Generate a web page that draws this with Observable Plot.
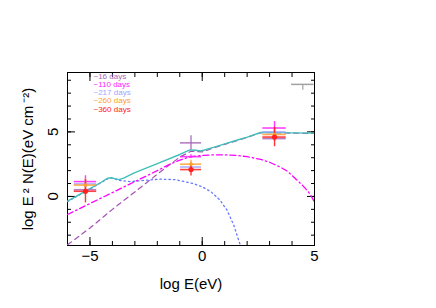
<!DOCTYPE html>
<html>
<head>
<meta charset="utf-8">
<script src="https://cdn.jsdelivr.net/npm/d3@7"></script>
<script src="https://cdn.jsdelivr.net/npm/@observablehq/plot@0.6"></script>
<style>
  html, body { margin: 0; padding: 0; background: #fff; }
  svg { display: block; }
</style>
</head>
<body>
<div id="chart"></div>
<script>
// ---- model curves (log E [eV] vs log E^2 N(E)) ----
const totalLogE = [-6, -5.5, -5, -4.5, -4.2, -4.05, -3.9, -3.7, -3.5, -3, -2, -1, -0.55, -0.3, -0.05, 0.5, 1, 1.5, 2, 2.6, 3, 4, 5];
const totalVal  = [-0.36, 0.12, 0.6, 1.1, 1.42, 1.45, 1.38, 1.3, 1.42, 1.84, 2.54, 3.25, 3.6, 3.58, 3.52, 3.8, 4.07, 4.33, 4.6, 4.95, 4.96, 4.92, 4.9];

const dottedLogE = [-6, -5, -4.5, -4.2, -4.05, -3.9, -3.7, -3.2, -2.6, -1.9, -1.2, -0.4, 0, 0.4, 0.8, 1.1, 1.4, 1.7];
const dottedVal  = [-0.4, 0.58, 1.07, 1.38, 1.42, 1.35, 1.25, 1.15, 1.24, 1.34, 1.3, 1.0, 0.75, 0.35, -0.3, -1.05, -2.2, -3.8];

const dashDotLogE = [-6, -5, -4, -3, -2, -1.5, -1, -0.5, 0, 0.5, 1, 1.5, 2, 2.6, 3, 3.5, 3.8, 4.2, 4.5, 4.8, 5];
const dashDotVal  = [-1.4, -0.55, 0.3, 1.15, 2.0, 2.45, 2.82, 3.08, 3.18, 3.22, 3.22, 3.18, 3.08, 2.87, 2.65, 2.25, 1.95, 1.3, 0.8, 0.2, -0.44];

const dashedLogE = [-6, -5, -4, -3, -2, -1, -0.5, 0, 0.5, 1, 1.5, 2, 2.6, 3, 4, 5];
const dashedVal  = [-3.75, -2.45, -1.0, 0.35, 1.72, 3.05, 3.5, 3.45, 3.75, 4.03, 4.3, 4.57, 4.93, 4.94, 4.9, 4.88];

// ---- observations ----
const epochs = ["~16 days", "~110 days", "~217 days", "~260 days", "~360 days"];
const epochColors = ["#a868b8", "#ff20ff", "#a0a4ff", "#ffa030", "#ff2020"];
const obsLogE = [-5.2, -0.5, 3.22];
const obsLogEErr = [0.5, 0.47, 0.52];
const flux16  = [0.52, 4.15, 4.48]; const err16  = [0.3, 0.55, 0.2];
const flux110 = [1.15, 3.08, 5.3];  const err110 = [0.45, 0.15, 0.5];
const flux217 = [0.97, 2.28, 5.0];  const err217 = [0.3, 0.2, 0.2];
const flux260 = [0.88, 2.5, 4.8];   const err260 = [0.5, 0.3, 0.2];
const flux360 = [0.4, 2.08, 4.6];   const err360 = [0.9, 0.5, 0.75];

const limLogE = [4.48]; const limLogEErr = [0.5]; const limFlux = [8.68]; const limDown = [0.45];

// ---- axes ----
const xDomain = [-6, 5];
const yDomain = [-3.8, 9.6];
const xMinorTicks = d3.range(-6, 6, 1);
const xMajorTicks = [-5, 0, 5];
const yMinorTicks = d3.range(-3, 10, 1);
const yMajorTicks = [0, 5];

// build tables
const curve = (xs, ys) => xs.map((x, i) => ({x, y: ys[i]}));
const fluxes = [flux16, flux110, flux217, flux260, flux360];
const errs = [err16, err110, err217, err260, err360];
const obs = [];
epochs.forEach((ep, k) => {
  obsLogE.forEach((x, i) => obs.push({epoch: ep, k, x, xerr: obsLogEErr[i], y: fluxes[k][i], lo: errs[k][i], hi: errs[k][i]}));
});
const lim = limLogE.map((x, i) => ({x, xerr: limLogEErr[i], y: limFlux[i], lo: limDown[i], hi: 0}));

const fmt = d => d < 0 ? "\u2212" + Math.abs(d) : String(d);
const font = "Liberation Sans, Arial, Helvetica, sans-serif";

const marks = [
  Plot.frame({stroke: "black", strokeWidth: 1}),
  // inward ticks on all four sides
  Plot.axisX(xMinorTicks, {anchor: "bottom", tickSize: -4, tickFormat: () => "", label: null}),
  Plot.axisX(xMajorTicks, {anchor: "bottom", tickSize: -8, tickFormat: () => "", label: null}),
  Plot.axisX(xMinorTicks, {anchor: "top", tickSize: -4, tickFormat: () => "", label: null}),
  Plot.axisX(xMajorTicks, {anchor: "top", tickSize: -8, tickFormat: () => "", label: null}),
  Plot.axisY(yMinorTicks, {anchor: "left", tickSize: -4, tickFormat: () => "", label: null}),
  Plot.axisY(yMajorTicks, {anchor: "left", tickSize: -8, tickFormat: () => "", label: null}),
  Plot.axisY(yMinorTicks, {anchor: "right", tickSize: -4, tickFormat: () => "", label: null}),
  Plot.axisY(yMajorTicks, {anchor: "right", tickSize: -8, tickFormat: () => "", label: null}),
  // tick labels
  Plot.text(xMajorTicks, {x: d => d, frameAnchor: "bottom", lineAnchor: "top", dy: 5, text: fmt, fontSize: 15, fontFamily: font, fill: "black"}),
  Plot.text(yMajorTicks, {y: d => d, frameAnchor: "left", dx: -14, rotate: -90, textAnchor: "middle", lineAnchor: "middle", text: fmt, fontSize: 15, fontFamily: font, fill: "black"}),
  // axis titles
  Plot.text(["log E(eV)"], {frameAnchor: "bottom", dy: 43, text: d => d, fontSize: 15, fontFamily: font, fill: "black"}),
  Plot.text(["log E\u2009\u00b2 N(E)(eV cm\u2009\u207b\u00b2)"], {frameAnchor: "left", dx: -39, rotate: -90, textAnchor: "middle", lineAnchor: "middle", text: d => d, fontSize: 15, fontFamily: font, fill: "black"}),
  // model curves
  Plot.line(curve(dashedLogE, dashedVal), {x: "x", y: "y", stroke: "#a452b4", strokeWidth: 1.2, strokeDasharray: "5,4", clip: true}),
  Plot.line(curve(dottedLogE, dottedVal), {x: "x", y: "y", stroke: "#6878ff", strokeWidth: 1.3, strokeDasharray: "1.5,3", clip: true}),
  Plot.line(curve(dashDotLogE, dashDotVal), {x: "x", y: "y", stroke: "#ff00ff", strokeWidth: 1.3, strokeDasharray: "6,3,1.5,3", clip: true}),
  Plot.line(curve(totalLogE, totalVal), {x: "x", y: "y", stroke: "#40c0b8", strokeWidth: 1.4, clip: true}),
  // upper point
  Plot.ruleY(lim, {y: "y", x1: d => d.x - d.xerr, x2: d => d.x + d.xerr, stroke: "#a0a0a0", strokeWidth: 1.5, clip: true}),
  Plot.ruleX(lim, {x: "x", y1: d => d.y - d.lo, y2: d => d.y + d.hi, stroke: "#a0a0a0", strokeWidth: 1.2, clip: true}),
  // observations
  Plot.ruleY(obs, {y: "y", x1: d => d.x - d.xerr, x2: d => d.x + d.xerr, stroke: d => epochColors[d.k], strokeWidth: 1.6, strokeOpacity: 0.85}),
  Plot.ruleX(obs, {x: "x", y1: d => d.y - d.lo, y2: d => d.y + d.hi, stroke: d => epochColors[d.k], strokeWidth: 1.4, strokeOpacity: 0.9}),
  Plot.dot(obs.filter(d => d.k === 3), {x: "x", y: "y", r: 1.8, fill: epochColors[3], stroke: "none"}),
  Plot.dot(obs.filter(d => d.k === 4), {x: "x", y: "y", r: 2.6, fill: epochColors[4], stroke: "none"}),
  // legend
  ...epochs.map((ep, i) => Plot.text([ep], {frameAnchor: "top-left", dx: 26, dy: 3.8 + i * 8.2, lineAnchor: "middle", textAnchor: "start", text: d => d, fill: epochColors[i], fontSize: 8, fontFamily: font}))
];

const chart = Plot.plot({
  width: 436,
  height: 308,
  marginLeft: 67,
  marginRight: 122,
  marginTop: 72,
  marginBottom: 63,
  x: {domain: xDomain},
  y: {domain: yDomain},
  style: {fontFamily: font, background: "white", overflow: "visible"},
  marks
});
document.getElementById("chart").appendChild(chart);
</script>
</body>
</html>
